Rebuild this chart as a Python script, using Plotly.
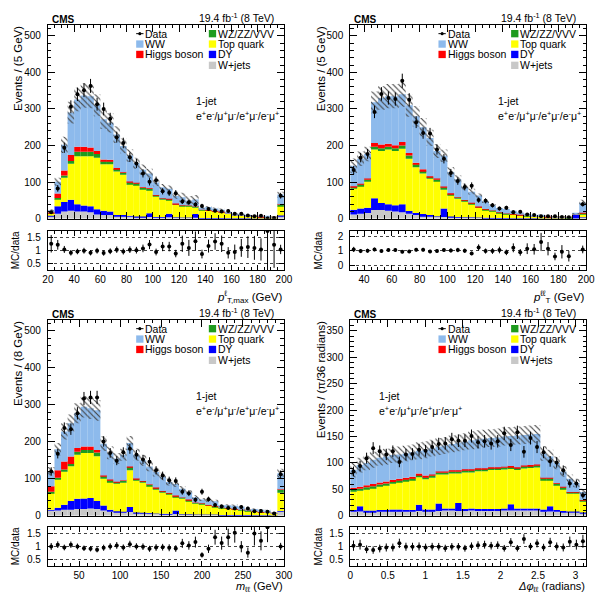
import numpy as np
import plotly.graph_objects as go

W, H = 603, 598
FONT = "Liberation Sans, Arial, Helvetica, sans-serif"

# ---------------- panel 1 : leading-lepton pT (20-200 GeV, 5 GeV bins) ----------------
data_pt = [18, 83, 194, 306, 340, 351, 363, 313, 300, 273, 223, 207, 168, 151, 124, 101, 105, 75,
           71, 70, 47, 45, 39, 35, 27, 22, 20, 21, 14, 14, 9, 7, 8, 1, 2, 63]
wjets_pt = [8, 14, 20, 22, 20, 20, 18, 12, 10, 10, 8, 8, 6, 5, 5, 5, 4, 4, 4, 4, 3, 3, 3, 2, 2, 2, 2,
            1.5, 1.5, 1, 1, 1, 1, 1, 0.5, 8]
dy_pt = [3, 20, 26, 30, 20, 16, 16, 14, 12, 10, 2, 2, 2, 1, 1, 10, 1, 1, 10, 0.5, 0.5, 0.5, 10, 0.3,
         0.3, 0.3, 0.3, 0.2, 0.2, 0.2, 0.2, 0.2, 0.2, 0.2, 0.2, 1]
top_pt = [4, 20, 66, 98, 131, 135, 137, 141, 127, 129, 119, 110, 87, 86, 75, 64, 56, 47, 37, 34.5,
          30.5, 30.5, 18, 21.7, 19.7, 17.7, 15.7, 13.3, 8.3, 7.8, 5.8, 4.8, 3.8, 2.8, 2.8, 26]
vv_pt = [1, 3, 6, 8, 12, 12, 12, 10, 8, 8, 7, 6, 5, 5, 4, 4, 3, 3, 3, 2, 2, 2, 2, 1.5, 1.5, 1.2, 1, 1,
         0.8, 0.7, 0.6, 0.5, 0.5, 0.4, 0.4, 4]
higgs_pt = [1, 12, 14, 16, 14, 14, 12, 8, 5, 4, 3, 2, 2, 1.5, 1.5, 1, 1, 1, 1, 0.7, 0.7, 0.5, 0.5, 0.4,
            0.4, 0.3, 0.3, 0.3, 0.2, 0.2, 0.2, 0.2, 0.2, 0.2, 0.2, 1]
ww_pt = [6, 32, 70, 116, 129, 140, 140, 125, 110, 101, 91, 71, 71, 53.5, 47.5, 40, 34, 30, 27, 20.3,
         22.3, 13.5, 19.5, 4.1, 8.1, 6.5, 5.7, 2.7, 2, 2.1, 1.2, 1.3, 1.3, 1.4, 0.9, 26]
unc_pt = [3, 11, 22, 30, 32, 34, 33, 30, 27, 26, 23, 20, 17, 15, 14, 13, 10, 9, 9, 7, 12, 12, 12, 3, 3,
          3, 3, 2, 2, 2, 1.5, 1.5, 1.5, 1, 1, 8]
ratio_pt = [1.26, 1.22, 1.04, 0.91, 0.96, 0.99, 0.91, 0.99, 0.90, 0.97, 1.03, 0.96, 1.03, 1.01, 1.08,
            1.23, 0.94, 1.15, 1.15, 0.88, 1.26, 1.10, 1.36, 0.86, 1.17, 1.35, 1.26, 0.91, 0.94, 1.10,
            1.13, 1.10, 1.04, 1.76, 1.22, 1.04]

# ---------------- panel 2 : dilepton pT (30-200 GeV, 5 GeV bins) ----------------
data_ptll = [133, 167, 177, 292, 341, 330, 327, 377, 325, 264, 234, 233, 189, 164, 125, 103, 87, 90,
             51, 49, 37, 28, 30, 18, 19, 12, 10, 7, 7, 7, 5, 4, None, 40]
wjets_ptll = [12, 14, 16, 24, 24, 22, 20, 18, 14, 10, 8, 7, 6, 5, 4, 4, 3, 3, 3, 2, 2, 2, 1.5, 1.5, 1,
              1, 1, 1, 1, 0.5, 0.5, 0.5, 0.5, 3]
dy_ptll = [13, 14, 14, 32, 19, 18, 17, 22, 7, 6, 5, 3, 1, 23, 2, 1, 1, 1, 0.3, 0.5, 0.5, 0.2, 0.5, 0.1,
           0.2, 0.2, 0.2, 0.2, 0.2, 0.2, 0.2, 0.2, 11.5, 1]
top_ptll = [58, 62, 72, 133, 142, 149, 148, 151, 143, 125, 111, 100, 96, 51, 59, 50, 43, 36, 27, 21.5,
            18.5, 14, 11, 10.4, 8.8, 6.8, 5.8, 4.8, 3.8, 3.3, 2.3, 1.8, 1, 8]
vv_ptll = [4, 4, 5, 8, 8, 8, 8, 9, 9, 8, 7, 4, 4, 7, 3, 3, 3, 3, 2, 2, 1, 1, 1, 1, 0.8, 0.8, 0.7, 0.6,
           0.5, 0.5, 0.4, 0.4, 0.4, 4]
higgs_ptll = [2, 2, 3, 10, 10, 8, 8, 10, 7, 4, 4, 2, 3, 2, 2, 1, 1, 1, 1, 1, 0.5, 0.5, 0.5, 0.4, 0.3,
              0.3, 0.3, 0.2, 0.2, 0.2, 0.2, 0.2, 0.2, 0.5]
ww_ptll = [56, 68, 67, 111, 127, 130, 134, 130, 130, 127, 115, 105, 75, 84, 58, 49, 36, 30, 30, 21,
           13.5, 11.5, 12.5, 8.6, 5.9, 4.9, 3, 4.2, 2.3, 0.3, 1.4, 0.4, 0.4, 27.5]
unc_ptll = [20, 20, 20, 30, 32, 33, 33, 34, 31, 28, 25, 22, 19, 17, 13, 11, 9, 8, 6, 5, 4, 3, 3, 2, 2,
            2, 1, 1, 1, 1, 1, 1, 2, 8]
ratio_ptll = [1.09, 0.98, 1.0, 1.09, 0.98, 1.05, 1.05, 0.93, 0.95, 1.07, 1.07, 0.95, 0.98, 1.05, 1.02,
              1.05, 1.0, 0.82, 1.23, 0.98, 0.98, 1.05, 0.89, 1.2, 0.89, 1.14, 1.1, 1.6, 1.14, 0.61,
              0.93, 0.63, None, 1.09]

# ---------------- panel 3 : dilepton mass (12-300 GeV, 8 GeV bins) ----------------
data_mll = [120, 168, 237, 234, 277, 317, 320, 320, 201, 170, 149, 172, 181, 165, 152, 146, 123, 109,
            96, 94, 65, 61, 43, 65, 45, 29, 25, 21, 20, 24, 20, 12, 13, 11, 6, 112]
wjets_mll = [14, 14, 16, 16, 18, 18, 20, 18, 14, 12, 10, 10, 10, 8, 8, 7, 6, 5, 5, 5, 4, 4, 3, 3, 3, 3,
             2, 2, 2, 2, 2, 1.5, 1.5, 1.5, 1, 12]
dy_mll = [2, 8, 14, 24, 28, 29, 28, 22, 14, 4, 2, 1, 14, 1, 0.3, 0.3, 0.3, 0.3, 0.3, 9, 0.2, 0.2, 0.2,
          0.2, 0.2, 0.2, 0.2, 0.2, 0.2, 0.2, 0.2, 0.2, 0.2, 0.2, 0.2, 1]
top_mll = [46, 78, 90, 94, 119, 123, 122, 121, 72, 75, 75, 79, 99, 87, 81, 73, 65, 57, 53, 37, 42, 36,
           30, 28, 24, 21, 19, 17, 15, 13, 11, 9.5, 7.5, 6.5, 5, 49]
vv_mll = [3, 3, 5, 6, 8, 8, 8, 10, 7, 5, 4, 5, 9, 4, 4, 4, 4, 4, 3, 3, 3, 3, 2, 2, 2, 2, 2, 1.5, 1.5,
          1.2, 1, 1, 0.8, 0.8, 0.6, 9]
higgs_mll = [15, 20, 22, 20, 10, 9, 9, 7, 2, 2, 1, 1, 1, 1, 1, 1, 1, 0.8, 0.8, 0.5, 0.5, 0.5, 0.4, 0.4,
             0.3, 0.3, 0.3, 0.3, 0.2, 0.2, 0.2, 0.2, 0.2, 0.2, 0.2, 0.5]
ww_mll = [40, 57, 81, 90, 94, 108, 104, 107, 86, 72, 63, 69, 64, 64, 56, 48, 42, 39, 29, 31.5, 23.5,
          19.5, 14.6, 10.6, 11.7, 12.7, 4.7, 7.2, 8.3, 7.6, 0.8, 5.8, 6, 5, 0.2, 43.5]
unc_mll = [12, 17, 22, 24, 27, 29, 29, 28, 20, 17, 15, 16, 19, 16, 15, 13, 12, 10, 9, 8, 7, 6, 5, 4, 4,
           4, 3, 3, 3, 2, 2, 2, 2, 2, 1, 12]
ratio_mll = [1.0, 1.07, 0.96, 1.07, 1.0, 0.93, 0.91, 0.87, 0.95, 1.0, 1.04, 0.96, 1.09, 1.0, 0.99, 0.91,
             0.96, 0.97, 0.95, 0.92, 1.12, 1.04, 1.17, 0.67, 0.91, 1.36, 1.13, 1.36, 1.53, 0.99, 0.76,
             1.5, 1.22, 1.75, None, 1.0]

# ---------------- panel 4 : dilepton delta-phi (0-pi, pi/36 bins) ----------------
data_dphi = [84, 94, 109, 128, 122, 116, 122, 102, 116, 117, 125, 123, 130, 136, 137, 145, 142, 142,
             151, 139, 141, 137, 141, 156, 134, 158, 121, 147, 130, 120, 103, 101, 86, 61, 61, 39]
wjets_dphi = [8, 8, 7, 7, 8, 8, 9, 9, 8, 8, 9, 9, 9, 9, 10, 10, 9, 9, 10, 9, 9, 9, 9, 10, 10, 10, 10,
              10, 10, 9, 8, 8, 7, 6, 6, 5]
dy_dphi = [3, 10, 3, 3, 3, 3, 3, 3, 3, 3, 12, 3, 3, 14, 4, 4, 15, 4, 4, 4, 4, 4, 4, 4, 12, 4, 4, 4, 4,
           3, 10, 3, 2, 2, 2, 1]
top_dphi = [35, 30, 41, 43, 45, 47, 49, 52, 55, 57, 52, 57, 60, 55, 64, 66, 56, 69, 68, 71.5, 71.5,
            73.5, 73.5, 73.5, 66.5, 72.5, 75.5, 76.5, 77.5, 56, 50, 47, 42, 34, 34, 21.5]
vv_dphi = [3, 3, 3, 3, 3, 3, 3, 3, 3, 3, 4, 4, 4, 4, 4, 4, 4, 4, 4, 4, 4, 4, 4, 4, 4, 4, 4, 4, 4, 3, 3,
           3, 3, 2, 2, 2]
higgs_dphi = [4, 4, 4, 4, 4, 4, 4, 3, 3, 3, 3, 3, 2, 2, 2, 2, 2, 2, 2, 1.5, 1.5, 1.5, 1.5, 1.5, 1.5,
              1.5, 1.5, 1.5, 1.5, 1, 1, 1, 1, 1, 1, 0.5]
ww_dphi = [34, 41, 42, 46, 47, 47, 47, 46, 46, 46, 43, 49, 50, 47, 49, 50, 52, 52, 55, 55, 56, 55, 56,
           57, 57, 60, 58, 58, 58, 46, 40, 38, 29, 25, 17, 15]
unc_dphi = [14, 14, 14, 15, 15, 15, 15, 15, 15, 15, 16, 16, 16, 16, 16, 16, 16, 16, 17, 17, 17, 17, 17,
            17, 17, 17, 17, 17, 17, 14, 13, 12, 10, 8, 8, 6]
ratio_dphi = [1.03, 1.07, 0.89, 0.86, 0.92, 0.96, 0.96, 1.12, 0.99, 0.99, 1.0, 0.96, 0.99, 0.99, 0.93,
              0.99, 0.99, 0.93, 1.01, 1.05, 1.07, 1.03, 1.05, 0.93, 1.16, 0.93, 1.29, 1.0, 1.12, 0.96,
              1.16, 1.0, 0.96, 1.18, 1.07, 1.2]

# ---------------- labels ----------------
process_names = ["W+jets", "DY", "Top quark", "WZ/ZZ/VVV", "Higgs boson", "WW"]
process_colors = ["#C8C8C8", "#0000FF", "#FFFF00", "#1E9B1E", "#FF0000", "#8DBAEC"]
legend_col1 = ["Data", "WW", "Higgs boson"]
legend_col2 = ["WZ/ZZ/VVV", "Top quark", "DY", "W+jets"]
lumi_text = "19.4 fb<sup>-1</sup> (8 TeV)"
jet_text = "1-jet"
chan_text = "e<sup>+</sup>e<sup>-</sup>/μ<sup>+</sup>μ<sup>-</sup>/e<sup>+</sup>μ<sup>-</sup>/e<sup>-</sup>μ<sup>+</sup>"

panels = [
    dict(lo=20, hi=200, bw=5, comps=[wjets_pt, dy_pt, top_pt, vv_pt, higgs_pt, ww_pt], unc=unc_pt,
         data=data_pt, ratio=ratio_pt, x0=43, x1=285, top=25, bot=221, rtop=233, rbot=273,
         ymax=530, ydt=100, ymin=20, rrange=[0.23, 1.77], rticks=[0.5, 1, 1.5],
         xdt=20, xt0=20, xmin=5, ytitle="Events / (5 GeV)",
         xtitle="<i>p</i><sup>ℓ</sup><sub>T,max</sub> (GeV)", xty=300, xts=11.5, jetx=151),
    dict(lo=30, hi=200, bw=5, comps=[wjets_ptll, dy_ptll, top_ptll, vv_ptll, higgs_ptll, ww_ptll],
         unc=unc_ptll, data=data_ptll, ratio=ratio_ptll, x0=353, x1=595, top=25, bot=221, rtop=233,
         rbot=273, ymax=530, ydt=100, ymin=20, rrange=[-0.33, 2.37], rticks=[0, 1, 2],
         xdt=20, xt0=0, xmin=5, ytitle="Events / (5 GeV)",
         xtitle="<i>p</i><sup>ℓℓ</sup><sub>T</sub> (GeV)", xty=300, xts=11.5, jetx=151),
    dict(lo=12, hi=300, bw=8, comps=[wjets_mll, dy_mll, top_mll, vv_mll, higgs_mll, ww_mll],
         unc=unc_mll, data=data_mll, ratio=ratio_mll, x0=43, x1=285, top=323, bot=521, rtop=532,
         rbot=572, ymax=530, ydt=100, ymin=20, rrange=[0.23, 1.77], rticks=[0.5, 1, 1.5],
         xdt=50, xt0=0, xmin=10, ytitle="Events / (8 GeV)",
         xtitle="<i>m</i><sub>ℓℓ</sub> (GeV)", xty=592.5, xts=11, jetx=151),
    dict(lo=0, hi=np.pi, bw=np.pi / 36, comps=[wjets_dphi, dy_dphi, top_dphi, vv_dphi, higgs_dphi, ww_dphi],
         unc=unc_dphi, data=data_dphi, ratio=ratio_dphi, x0=353, x1=595, top=323, bot=521, rtop=532,
         rbot=572, ymax=371, ydt=50, ymin=10, rrange=[0.23, 1.77], rticks=[0.5, 1, 1.5],
         xdt=0.5, xt0=0, xmin=0.1, ytitle="Events / (π/36 radians)",
         xtitle="<i>Δφ</i><sub>ℓℓ</sub> (radians)", xty=592.5, xts=11, jetx=29),
]


def ax_key(i, a):
    return f"{a}axis" if i == 1 else f"{a}axis{i}"


def ax_ref(i, a):
    return a if i == 1 else f"{a}{i}"


fig = go.Figure()
annotations = []
shapes = []
layout_axes = {}


def ann(x, y, text, size=10.5, xanchor="left", yanchor="middle", **kw):
    annotations.append(dict(x=x / W, y=1 - y / H, xref="paper", yref="paper", text=text,
                            showarrow=False, xanchor=xanchor, yanchor=yanchor, borderpad=0,
                            font=dict(family=FONT, size=size, color="black"), **kw))


common_axis = dict(showline=True, linecolor="black", linewidth=1, mirror="allticks",
                   ticks="inside", tickcolor="black", zeroline=False, showgrid=False,
                   tickfont=dict(family=FONT, size=10, color="black"))

for k, p in enumerate(panels):
    m = 2 * k + 1
    r = 2 * k + 2
    n = len(p["data"])
    centers = p["lo"] + p["bw"] * (np.arange(n) + 0.5)
    comps = [np.array(c, dtype=float) for c in p["comps"]]
    base = np.zeros(n)
    for vals, col in zip(comps, process_colors):
        fig.add_trace(go.Bar(x=centers, y=vals, base=base.copy(), width=p["bw"],
                             marker=dict(color=col, line=dict(width=0)),
                             xaxis=ax_ref(m, "x"), yaxis=ax_ref(m, "y"), hoverinfo="skip",
                             showlegend=False))
        base = base + vals
    total = base
    unc = np.array(p["unc"], dtype=float)
    fig.add_trace(go.Bar(x=centers, y=2 * unc, base=total - unc, width=p["bw"],
                         marker=dict(color="rgba(0,0,0,0)", line=dict(width=0),
                                     pattern=dict(shape="\\", fgcolor="#444444",
                                                  bgcolor="rgba(0,0,0,0)", size=4,
                                                  solidity=0.28, fgopacity=1)),
                         xaxis=ax_ref(m, "x"), yaxis=ax_ref(m, "y"), hoverinfo="skip",
                         showlegend=False))
    data = np.array(p["data"], dtype=float)
    fig.add_trace(go.Scatter(x=centers, y=data, mode="markers",
                             marker=dict(color="black", size=4),
                             error_y=dict(type="data", array=np.sqrt(data), color="black",
                                          thickness=1, width=0),
                             xaxis=ax_ref(m, "x"), yaxis=ax_ref(m, "y"), hoverinfo="skip",
                             showlegend=False))
    ratio = np.array(p["ratio"], dtype=float)
    rerr = ratio * np.sqrt(1.0 / data + (unc / total) ** 2)
    fig.add_trace(go.Scatter(x=centers, y=ratio, mode="markers",
                             marker=dict(color="black", size=4),
                             error_y=dict(type="data", array=rerr, color="black",
                                          thickness=1, width=0),
                             xaxis=ax_ref(r, "x"), yaxis=ax_ref(r, "y"), hoverinfo="skip",
                             showlegend=False))

    xdom = [p["x0"] / W, p["x1"] / W]
    xminor = dict(ticks="inside", ticklen=3.5, tickcolor="black", dtick=p["xmin"],
                  tick0=p["xt0"], showgrid=False)
    layout_axes[ax_key(m, "x")] = dict(common_axis, domain=xdom, range=[p["lo"], p["hi"]],
                                       anchor=ax_ref(m, "y"), showticklabels=False, ticklen=7,
                                       tick0=p["xt0"], dtick=p["xdt"], minor=xminor)
    layout_axes[ax_key(m, "y")] = dict(common_axis, domain=[1 - p["bot"] / H, 1 - p["top"] / H],
                                       range=[0, p["ymax"]], anchor=ax_ref(m, "x"), ticklen=7,
                                       tick0=0, dtick=p["ydt"], ticklabelstandoff=4,
                                       minor=dict(ticks="inside", ticklen=3.5, tickcolor="black",
                                                  dtick=p["ymin"], tick0=0, showgrid=False))
    layout_axes[ax_key(r, "x")] = dict(common_axis, domain=xdom, range=[p["lo"], p["hi"]],
                                       anchor=ax_ref(r, "y"), showticklabels=True, ticklen=5,
                                       tick0=p["xt0"], dtick=p["xdt"], minor=xminor)
    layout_axes[ax_key(r, "y")] = dict(common_axis, domain=[1 - p["rbot"] / H, 1 - p["rtop"] / H],
                                       range=p["rrange"], anchor=ax_ref(r, "x"), ticklen=5,
                                       tickmode="array", tickvals=p["rticks"],
                                       ticklabelstandoff=4, showgrid=True, griddash="dot",
                                       gridcolor="#444", gridwidth=1)

    # texts
    x0, top = p["x0"], p["top"]
    ann(x0 + 3, top - 5, "<b>CMS</b>", size=10)
    ann(p["x1"] - 9, top - 7.5, lumi_text, size=10.5, xanchor="right")
    ann(x0 + p["jetx"], top + 77, jet_text, size=10.5)
    ann(x0 + p["jetx"], top + 92, chan_text, size=10.5)
    ann(x0 - 30, top, p["ytitle"], size=11.5, xanchor="center", yanchor="top", textangle=-90)
    ann(x0 - 33, (p["rtop"] + p["rbot"]) / 2, "MC/data", size=10, xanchor="center",
        textangle=-90)
    ann(p["x1"], p["xty"], p["xtitle"], size=p["xts"], xanchor="right")

    # legend (column 1: Data, WW, Higgs; column 2: VV, top, DY, W+jets)
    rows = [9, 19.5, 30, 41]
    col1_colors = [None, process_colors[5], process_colors[4]]
    col2_colors = [process_colors[3], process_colors[2], process_colors[1], process_colors[0]]
    bx1, bx2 = x0 + 90.5, x0 + 165
    for j, (name, col) in enumerate(zip(legend_col1, col1_colors)):
        yy = top + rows[j]
        if col is None:
            shapes.append(dict(type="line", xref="paper", yref="paper", x0=bx1 / W, x1=(bx1 + 7.5) / W,
                               y0=1 - yy / H, y1=1 - yy / H, line=dict(color="black", width=1)))
            shapes.append(dict(type="circle", xref="paper", yref="paper", x0=(bx1 + 2.2) / W,
                               x1=(bx1 + 5.3) / W, y0=1 - (yy + 1.6) / H, y1=1 - (yy - 1.6) / H,
                               fillcolor="black", line=dict(width=0)))
        else:
            shapes.append(dict(type="rect", xref="paper", yref="paper", x0=bx1 / W, x1=(bx1 + 7.5) / W,
                               y0=1 - (yy + 3.7) / H, y1=1 - (yy - 3.7) / H, fillcolor=col,
                               line=dict(width=0)))
        ann(bx1 + 8.5, yy, name, size=10.5)
    for j, (name, col) in enumerate(zip(legend_col2, col2_colors)):
        yy = top + rows[j]
        shapes.append(dict(type="rect", xref="paper", yref="paper", x0=bx2 / W, x1=(bx2 + 7.5) / W,
                           y0=1 - (yy + 3.7) / H, y1=1 - (yy - 3.7) / H, fillcolor=col,
                           line=dict(width=0)))
        ann(bx2 + 8.5, yy, name, size=10.5)

fig.update_layout(width=W, height=H, margin=dict(l=0, r=0, t=0, b=0),
                  plot_bgcolor="white", paper_bgcolor="white", barmode="overlay",
                  showlegend=False, annotations=annotations, shapes=shapes,
                  font=dict(family=FONT, color="black"), **layout_axes)

fig.write_html("out.html")
